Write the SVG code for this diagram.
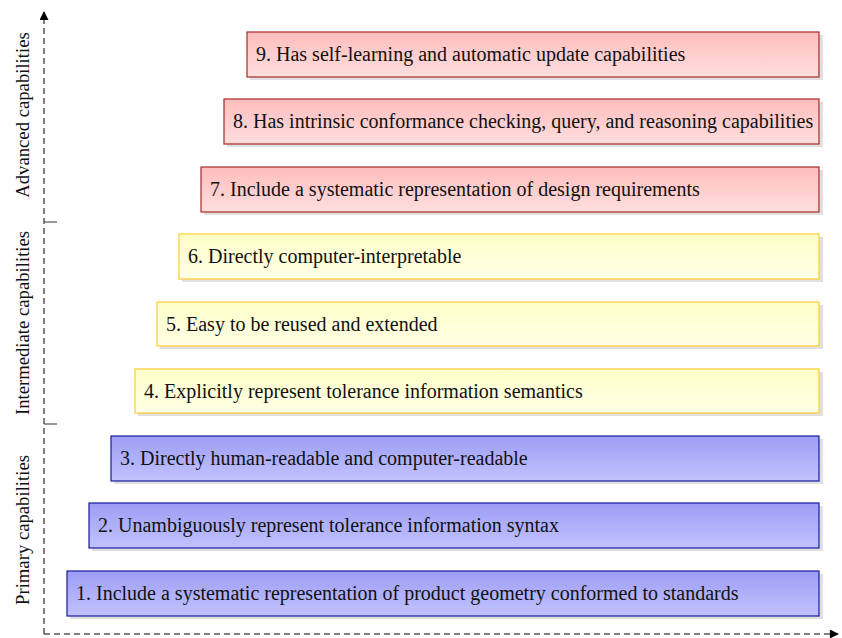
<svg xmlns="http://www.w3.org/2000/svg" width="842" height="638" viewBox="0 0 842 638">
  <defs>
    <linearGradient id="gRed" x1="0" y1="0" x2="0" y2="1">
      <stop offset="0" stop-color="#ffbdbd"/>
      <stop offset="1" stop-color="#ffdede"/>
    </linearGradient>
    <linearGradient id="gYel" x1="0" y1="0" x2="0" y2="1">
      <stop offset="0" stop-color="#ffffc8"/>
      <stop offset="1" stop-color="#ffffe6"/>
    </linearGradient>
    <linearGradient id="gBlue" x1="0" y1="0" x2="0" y2="1">
      <stop offset="0" stop-color="#9d9df6"/>
      <stop offset="1" stop-color="#c2c2ff"/>
    </linearGradient>
    <marker id="arr" viewBox="0 0 10 10" refX="9" refY="5" markerWidth="10" markerHeight="9" markerUnits="userSpaceOnUse" orient="auto">
      <path d="M0,0 L10,5 L0,10 Z" fill="#000"/>
    </marker>
  </defs>
  <style>
    .shadow { fill: #000; opacity: 0.12; }
    .red { fill: url(#gRed); stroke: #a52a2a; stroke-width: 1.2; }
    .yel { fill: url(#gYel); stroke: #ffcc33; stroke-width: 1.2; }
    .blue { fill: url(#gBlue); stroke: #1a1aa0; stroke-width: 1.2; }
    .lbl { font-family: "Liberation Serif", "Times New Roman", serif; font-size: 20px; fill: #111; }
    .axlbl { font-family: "Liberation Serif", "Times New Roman", serif; font-size: 18.7px; fill: #111; text-anchor: middle; }
    .axis { stroke: #000; stroke-width: 1; stroke-dasharray: 6 4; fill: none; }
    .tick { stroke: #555; stroke-width: 1.2; fill: none; }
  </style>

  <g id="connectors">
    <line class="axis" x1="44" y1="634" x2="44" y2="12" marker-end="url(#arr)"/>
    <line class="axis" x1="44" y1="634" x2="838" y2="634" marker-end="url(#arr)"/>
    <line class="tick" x1="44" y1="222" x2="57" y2="222"/>
    <line class="tick" x1="44" y1="424" x2="57" y2="424"/>
  </g>

  <g id="axis-labels">
    <text class="axlbl" transform="translate(29,115) rotate(-90)">Advanced capabilities</text>
    <text class="axlbl" transform="translate(29,323) rotate(-90)">Intermediate capabilities</text>
    <text class="axlbl" transform="translate(29,530) rotate(-90)">Primary capabilities</text>
  </g>

  <g id="node9">
    <rect class="shadow" x="250" y="35" width="573" height="45"/>
    <rect class="red" x="247" y="32" width="572" height="45"/>
    <text class="lbl" x="256" y="61">9. Has self-learning and automatic update capabilities</text>
  </g>
  <g id="node8">
    <rect class="shadow" x="227" y="102" width="596" height="45"/>
    <rect class="red" x="224" y="99" width="595" height="45"/>
    <text class="lbl" x="233" y="128">8. Has intrinsic conformance checking, query, and reasoning capabilities</text>
  </g>
  <g id="node7">
    <rect class="shadow" x="204" y="170" width="619" height="45"/>
    <rect class="red" x="201" y="167" width="618" height="45"/>
    <text class="lbl" x="210" y="196">7. Include a systematic representation of design requirements</text>
  </g>
  <g id="node6">
    <rect class="shadow" x="182" y="237" width="641" height="45"/>
    <rect class="yel" x="179" y="234" width="640" height="45"/>
    <text class="lbl" x="188" y="263">6. Directly computer-interpretable</text>
  </g>
  <g id="node5">
    <rect class="shadow" x="160" y="305" width="663" height="44"/>
    <rect class="yel" x="157" y="302" width="662" height="44"/>
    <text class="lbl" x="166" y="331">5. Easy to be reused and extended</text>
  </g>
  <g id="node4">
    <rect class="shadow" x="138" y="372" width="685" height="44"/>
    <rect class="yel" x="135" y="369" width="684" height="44"/>
    <text class="lbl" x="144" y="398">4. Explicitly represent tolerance information semantics</text>
  </g>
  <g id="node3">
    <rect class="shadow" x="114" y="439" width="709" height="45"/>
    <rect class="blue" x="111" y="436" width="708" height="45"/>
    <text class="lbl" x="120" y="465">3. Directly human-readable and computer-readable</text>
  </g>
  <g id="node2">
    <rect class="shadow" x="92" y="506" width="731" height="45"/>
    <rect class="blue" x="89" y="503" width="730" height="45"/>
    <text class="lbl" x="98" y="532">2. Unambiguously represent tolerance information syntax</text>
  </g>
  <g id="node1">
    <rect class="shadow" x="70" y="574" width="753" height="45"/>
    <rect class="blue" x="67" y="571" width="752" height="45"/>
    <text class="lbl" x="76" y="600">1. Include a systematic representation of product geometry conformed to standards</text>
  </g>
</svg>
